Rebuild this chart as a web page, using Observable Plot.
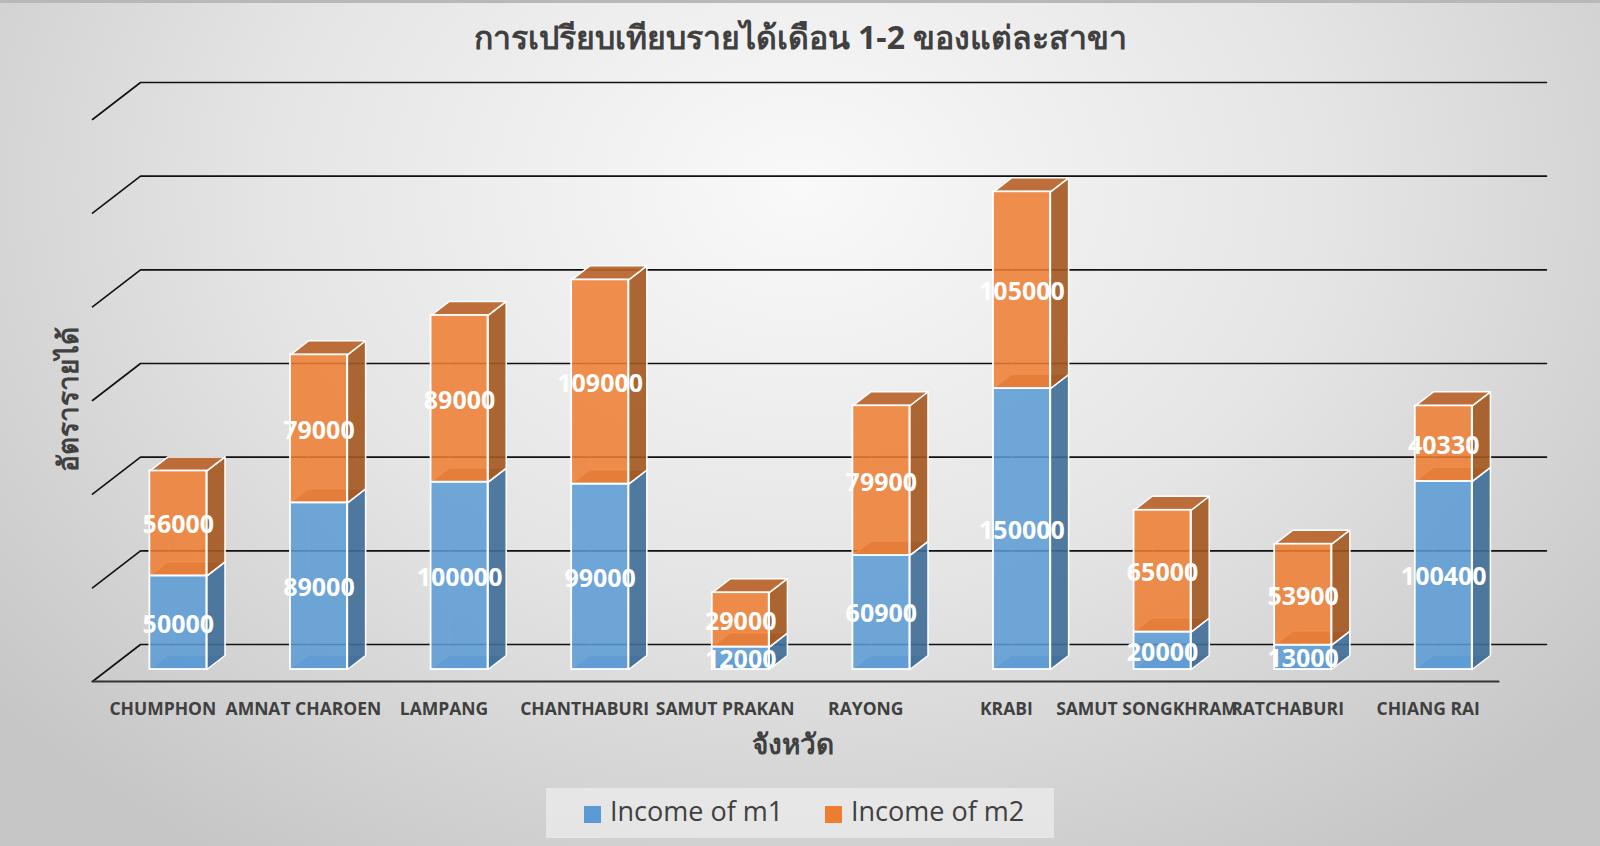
<!DOCTYPE html>
<html><head><meta charset="utf-8">
<script src="https://cdn.jsdelivr.net/npm/d3@7"></script>
<script src="https://cdn.jsdelivr.net/npm/@observablehq/plot@0.6"></script>
<style>
html,body{margin:0;padding:0;background:#fff;}
#wrap{position:relative;width:1600px;height:846px;overflow:hidden;
  background:radial-gradient(ellipse 66% 95% at 50% 22%, #f9f9f9 0%, #e5e5e5 50%, #c6c6c6 100%);
  border-top:3px solid #b8b8b8;box-sizing:border-box;}
#wrap svg{position:absolute;left:0;top:-3px;background:transparent;}
#legend{position:absolute;left:546px;top:785px;width:508px;height:50px;background:rgba(245,245,245,0.55);
  font-family:"Open Sans",sans-serif;font-size:27px;color:#404040;}
.sw{position:absolute;width:17px;height:17px;top:18px;}
.lt{position:absolute;top:5px;line-height:36px;white-space:nowrap;}
</style></head>
<body><div id="wrap"><div id="legend"></div></div>
<script>
const categories = ["CHUMPHON","AMNAT CHAROEN","LAMPANG","CHANTHABURI","SAMUT PRAKAN","RAYONG","KRABI","SAMUT SONGKHRAM","RATCHABURI","CHIANG RAI"];
const m1 = [50000, 89000, 100000, 99000, 12000, 60900, 150000, 20000, 13000, 100400];
const m2 = [56000, 79000, 89000, 109000, 29000, 79900, 105000, 65000, 53900, 40330];
const gridTicks = [0, 50000, 100000, 150000, 200000, 250000, 300000];
const seriesNames = ["Income of m1", "Income of m2"];
const seriesColors = ["#5B9BD5", "#ED7D31"];
const sideColors = ["#3F6D98", "#A3571F"];
const topColors = ["#7DB0E0", "#B8632A"];
const bottomColors = ["#4E8BC4", "#C9692A"];
const title = "การเปรียบเทียบรายได้เดือน 1-2 ของแต่ละสาขา";
const xTitle = "จังหวัด";
const yTitle = "อัตรารายได้";

// oblique projection of depth (0 = back wall, 1 = front of floor)
const DX = -0.3414, DY = -19750;
const dFront = 0.676, dBack = 0.297, halfW = 0.2025;

const segs = [];
categories.forEach((c, i) => {
  const vals = [m1[i], m2[i]];
  let base = 0;
  vals.forEach((v, s) => {
    segs.push({i, c, s, y0: base, y1: base + v, v});
    base += v;
  });
});
const pt = (xc, v, d) => ({x: xc + DX * d, y: v + DY * d});
const faces = [];
segs.forEach((g, k) => {
  const xl = g.i + 0.5 - halfW, xr = g.i + 0.5 + halfW;
  const add = (kind, pts) => pts.forEach(p => faces.push({id: kind + k, kind, s: g.s, x: p.x, y: p.y}));
  add("side", [pt(xr, g.y0, dFront), pt(xr, g.y1, dFront), pt(xr, g.y1, dBack), pt(xr, g.y0, dBack)]);
  add("top", [pt(xl, g.y1, dFront), pt(xr, g.y1, dFront), pt(xr, g.y1, dBack), pt(xl, g.y1, dBack)]);
  add("bottom", [pt(xl, g.y0, dFront), pt(xr, g.y0, dFront), pt(xr, g.y0, dBack), pt(xl, g.y0, dBack)]);
  add("back", [pt(xl, g.y0, dBack), pt(xl, g.y1, dBack), pt(xr, g.y1, dBack), pt(xr, g.y0, dBack)]);
});
const fronts = segs.map(g => ({...g,
  x1: g.i + 0.5 - halfW + DX * dFront, x2: g.i + 0.5 + halfW + DX * dFront,
  fy1: g.y0 + DY * dFront, fy2: g.y1 + DY * dFront}));

const grid = [];
gridTicks.forEach(t => {
  grid.push({t, x: DX, y: t + DY}, {t, x: 0, y: t}, {t, x: categories.length, y: t});
});
const floorFront = [{x: DX, y: DY}, {x: categories.length + DX, y: DY}];

const marks = [
  Plot.line(grid, {x: "x", y: "y", z: "t", stroke: "#111", strokeWidth: 1.6}),
  Plot.line(floorFront, {x: "x", y: "y", stroke: "#333", strokeWidth: 2.2}),
];
[0, 1].forEach(s => {
  const f = kind => faces.filter(d => d.s === s && d.kind === kind);
  marks.push(
    Plot.line(f("back"), {x: "x", y: "y", z: "id", curve: "linear-closed", fill: "none", stroke: "white", strokeOpacity: 0.35, strokeWidth: 1}),
    Plot.line(f("bottom"), {x: "x", y: "y", z: "id", curve: "linear-closed", fill: bottomColors[s], fillOpacity: 0.6, stroke: "white", strokeOpacity: 0.3, strokeWidth: 1}),
    Plot.line(f("side"), {x: "x", y: "y", z: "id", curve: "linear-closed", fill: sideColors[s], fillOpacity: 0.9, stroke: "white", strokeWidth: 1.5, strokeLinejoin: "round"}),
    Plot.line(f("top"), {x: "x", y: "y", z: "id", curve: "linear-closed", fill: topColors[s], fillOpacity: 0.92, stroke: "white", strokeWidth: 1.5, strokeLinejoin: "round"}),
    Plot.rect(fronts.filter(d => d.s === s), {x1: "x1", x2: "x2", y1: "fy1", y2: "fy2", fill: seriesColors[s], fillOpacity: 0.86, stroke: "white", strokeWidth: 1.8})
  );
});
marks.push(
  Plot.text(fronts, {x: d => (d.x1 + d.x2) / 2, y: d => (d.fy1 + d.fy2) / 2, dy: 2, text: d => String(d.v),
    fill: "white", fontSize: 25, fontWeight: "bold", fontFamily: "Open Sans, sans-serif"}),
  Plot.text(categories, {x: (d, i) => i + 0.5 + DX, y: () => DY, dy: 28, text: d => d,
    fill: "#404040", fontSize: 17.5, fontWeight: "bold", fontFamily: "Open Sans, sans-serif"}),
  Plot.text([title], {text: d => d, frameAnchor: "top", lineAnchor: "middle", dy: 38, fill: "#404040", fontSize: 32, fontWeight: "bold",
    fontFamily: "Open Sans, Noto Sans, sans-serif"}),
  Plot.text([xTitle], {text: d => d, frameAnchor: "top", lineAnchor: "middle", dx: -8, dy: 745, fill: "#404040", fontSize: 28, fontWeight: "bold",
    fontFamily: "Open Sans, Noto Sans, sans-serif"}),
  Plot.text([yTitle], {text: d => d, frameAnchor: "left", textAnchor: "middle", lineAnchor: "middle", dx: 69, dy: -26, rotate: -90, fill: "#404040", fontSize: 28, fontWeight: "bold",
    fontFamily: "Open Sans, Noto Sans, sans-serif"})
);

const chart = Plot.plot({
  width: 1600, height: 849,
  marginTop: 0, marginRight: 0, marginBottom: 0, marginLeft: 0,
  x: {type: "linear", domain: [0, categories.length], range: [140, 1546], axis: null},
  y: {type: "linear", domain: [0, 300000], range: [644, 82], axis: null},
  style: {background: "transparent", overflow: "visible"},
  marks
});
document.getElementById("wrap").prepend(chart);

const lg = document.getElementById("legend");
const legendX = [{sw: 38, tx: 64}, {sw: 279, tx: 305}];
seriesNames.forEach((n, s) => {
  const sw = document.createElement("div");
  sw.className = "sw"; sw.style.left = legendX[s].sw + "px"; sw.style.background = seriesColors[s];
  const t = document.createElement("div");
  t.className = "lt"; t.style.left = legendX[s].tx + "px"; t.textContent = n;
  lg.append(sw, t);
});
</script></body></html>
